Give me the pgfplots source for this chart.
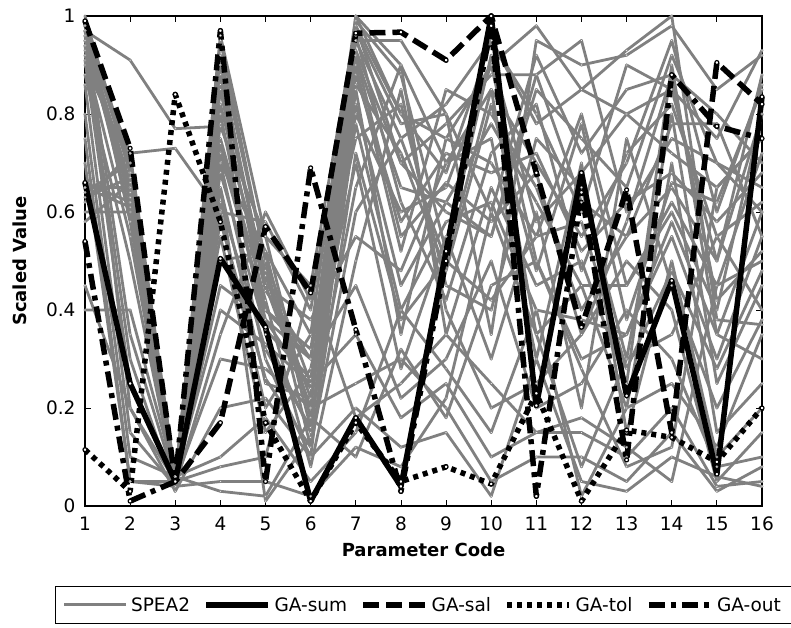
\documentclass[border=0pt]{standalone}
\usepackage{fontspec}
\setmainfont{DejaVu Sans}
\usepackage{pgfplots}
\usepackage{pgfplotstable}
\pgfplotsset{compat=1.18}
\definecolor{speagray}{RGB}{128,128,128}

% SPEA2 solutions, one row per solution, one column per parameter code
\pgfplotstableread{
name 1 2 3 4 5 6 7 8 9 10 11 12 13 14 15 16
s1  0.97 0.91 0.77 0.775 0.55 0.45 0.98 0.80 0.75 0.90 0.98 0.85 0.93 1.00 0.38 0.37
s2  0.95 0.72 0.73 0.60 0.58 0.40 0.95 0.75 0.82 0.95 0.80 0.60 0.90 0.85 0.75 0.93
s3  1.00 0.68 0.05 0.95 0.50 0.25 1.00 0.90 0.70 0.85 0.70 0.55 0.70 0.95 0.60 0.86
s4  0.93 0.65 0.04 0.90 0.45 0.20 0.97 0.78 0.80 0.60 0.92 0.72 0.85 0.88 0.80 0.70
s5  0.98 0.62 0.05 0.85 0.40 0.30 0.93 0.70 0.60 0.55 0.88 0.95 0.60 0.75 0.70 0.60
s6  0.90 0.70 0.06 0.80 0.35 0.15 0.90 0.52 0.85 0.80 0.65 0.40 0.55 0.65 0.50 0.88
s7  0.96 0.60 0.04 0.70 0.30 0.10 0.85 0.35 0.75 0.70 0.55 0.80 0.45 0.60 0.40 0.80
s8  0.99 0.58 0.05 0.65 0.25 0.22 0.80 0.60 0.65 0.90 0.50 0.30 0.35 0.55 0.30 0.55
s9  0.92 0.55 0.04 0.60 0.20 0.35 0.75 0.82 0.45 0.40 0.75 0.65 0.30 0.80 0.25 0.45
s10 0.88 0.50 0.05 0.55 0.15 0.28 0.70 0.28 0.55 0.30 0.60 0.20 0.75 0.45 0.20 0.38
s11 0.66 0.62 0.05 0.96 0.55 0.18 0.65 0.90 0.35 0.65 0.45 0.50 0.25 0.90 0.35 0.30
s12 0.65 0.65 0.06 0.92 0.50 0.12 0.60 0.75 0.50 0.85 0.35 0.45 0.20 0.70 0.15 0.25
s13 0.63 0.67 0.05 0.88 0.45 0.38 0.55 0.48 0.70 0.75 0.30 0.70 0.15 0.50 0.10 0.20
s14 0.60 0.60 0.04 0.75 0.42 0.08 0.50 0.85 0.40 0.20 0.25 0.35 0.50 0.40 0.05 0.15
s15 0.58 0.66 0.05 0.45 0.38 0.30 0.45 0.22 0.30 0.50 0.20 0.25 0.40 0.30 0.08 0.10
s16 0.40 0.40 0.06 0.40 0.33 0.25 0.35 0.18 0.25 0.10 0.15 0.15 0.10 0.20 0.04 0.05
s17 0.97 0.35 0.05 0.30 0.28 0.20 0.25 0.30 0.20 0.05 0.10 0.10 0.05 0.15 0.03 0.08
s18 0.94 0.30 0.03 0.20 0.22 0.10 0.20 0.12 0.15 0.02 0.30 0.05 0.03 0.10 0.06 0.04
s19 0.91 0.25 0.06 0.10 0.18 0.05 0.15 0.40 0.28 0.15 0.40 0.02 0.20 0.25 0.12 0.35
s20 0.99 0.20 0.05 0.08 0.10 0.45 0.18 0.25 0.35 0.25 0.15 0.18 0.12 0.05 0.45 0.50
s21 0.86 0.15 0.04 0.05 0.05 0.02 0.12 0.08 0.22 0.60 0.35 0.08 0.30 0.35 0.55 0.40
s22 0.80 0.10 0.06 0.03 0.02 0.18 0.10 0.32 0.18 0.45 0.50 0.28 0.08 0.12 0.65 0.75
s23 0.75 0.05 0.05 0.65 0.01 0.14 0.95 0.95 0.80 0.35 0.95 0.90 0.92 0.98 0.85 0.92
s24 0.70 0.05 0.04 0.35 0.60 0.42 0.92 0.65 0.62 0.55 0.85 0.75 0.65 0.92 0.70 0.65
s25 0.45 0.20 0.03 0.50 0.52 0.35 1.00 0.80 0.68 0.95 0.78 0.85 0.80 0.85 0.50 0.80
s26 0.99 0.70 0.05 0.78 0.48 0.22 0.98 0.70 0.78 0.88 0.88 0.62 0.55 0.78 0.78 0.55
s27 0.98 0.68 0.04 0.72 0.40 0.32 0.88 0.58 0.72 0.68 0.72 0.52 0.62 0.68 0.58 0.68
s28 0.95 0.64 0.05 0.68 0.36 0.26 0.82 0.45 0.62 0.78 0.62 0.45 0.45 0.62 0.45 0.72
s29 0.62 0.72 0.06 0.62 0.32 0.16 0.78 0.40 0.58 0.62 0.40 0.38 0.35 0.58 0.35 0.60
s30 0.64 0.70 0.05 0.58 0.26 0.12 0.72 0.38 0.50 0.42 0.55 0.58 0.28 0.48 0.28 0.48
s31 0.96 0.66 0.05 0.82 0.44 0.30 0.99 0.88 0.52 0.92 0.58 0.68 0.80 0.72 0.65 0.75
s32 0.94 0.63 0.04 0.74 0.38 0.24 0.96 0.62 0.42 0.72 0.82 0.48 0.72 0.82 0.55 0.62
s33 0.65 0.61 0.05 0.86 0.47 0.20 0.92 0.55 0.66 0.58 0.68 0.35 0.58 0.88 0.42 0.52
s34 0.97 0.64 0.06 0.70 0.52 0.16 0.86 0.72 0.48 0.82 0.48 0.78 0.38 0.66 0.62 0.85
}\spearows
\pgfplotstabletranspose[colnames from=name]\spea\spearows

\begin{document}
\begin{tikzpicture}
\useasboundingbox (0,0) rectangle (791pt,627pt);
\begin{axis}[
  at={(85pt,121pt)}, anchor=south west,
  width=677pt, height=490pt, scale only axis,
  xmin=1, xmax=16, ymin=0, ymax=1,
  xtick={1,...,16}, ytick={0,0.2,0.4,0.6,0.8,1},
  tick align=inside, major tick length=6pt,
  tick style={black, line width=0.8pt},
  axis line style={line width=1.2pt},
  /pgf/number format/assume math mode=true,
  tick label style={font=\fontsize{18.5}{20}\selectfont},
  xticklabel style={yshift=-7pt},
  yticklabel style={xshift=-6pt},
  xlabel={\textbf{Parameter Code}}, ylabel={\textbf{Scaled Value}},
  label style={font=\fontsize{18}{20}\selectfont},
  xlabel style={at={(axis description cs:0.5,-0.09)}, anchor=center},
  ylabel style={at={(axis description cs:-0.096,0.5)}, anchor=center},
  clip=false,
  legend columns=5,
  legend image code/.code={\draw[#1] (0pt,0pt) -- (62pt,0pt);},
  legend style={at={(0.5,-0.202)}, anchor=center, draw=black, line width=1pt,
    font=\fontsize{18.5}{20}\selectfont, inner sep=7pt,
    nodes={inner sep=3.5pt},
    /tikz/every even column/.append style={column sep=10pt}},
  spea/.style={speagray, line width=2.8pt, line join=round,
    mark=*, mark size=1.2pt, mark options={fill=white, draw=speagray, line width=0.5pt, solid}},
  ga/.style={black, line width=5.5pt, line join=round,
    mark=*, mark size=2pt, mark options={fill=white, draw=black, line width=1.2pt, solid}},
]
\addlegendimage{speagray, line width=3pt}
\addlegendimage{black, line width=5.5pt}
\addlegendimage{black, line width=5.5pt, dash pattern=on 16pt off 7pt}
\addlegendimage{black, line width=5.5pt, dash pattern=on 5pt off 5pt}
\addlegendimage{black, line width=5.5pt, dash pattern=on 16pt off 6pt on 5pt off 6pt}
\legend{SPEA2, GA-sum, GA-sal, GA-tol, GA-out}

% SPEA2 front
\pgfplotsinvokeforeach{1,...,34}{
  \addplot[spea, forget plot] table[x=colnames, y=s#1] {\spea};
}

% single-objective GA runs
\addplot[ga, forget plot] coordinates {(1,0.66) (2,0.25) (3,0.05) (4,0.505) (5,0.365) (6,0.01) (7,0.18) (8,0.04) (9,0.52) (10,1.0) (11,0.205) (12,0.68) (13,0.225) (14,0.46) (15,0.065) (16,0.835)};
\addplot[ga, dash pattern=on 16pt off 7pt, forget plot] coordinates {(1,0.99) (2,0.73) (3,0.05) (4,0.17) (5,0.57) (6,0.435) (7,0.965) (8,0.967) (9,0.91) (10,1.0) (11,0.68) (12,0.365) (13,0.645) (14,0.15) (15,0.905) (16,0.82)};
\addplot[ga, dash pattern=on 5pt off 5pt, forget plot] coordinates {(1,0.115) (2,0.03) (3,0.84) (4,0.58) (5,0.17) (6,0.01) (7,0.17) (8,0.05) (9,0.08) (10,0.045) (11,0.23) (12,0.01) (13,0.155) (14,0.14) (15,0.09) (16,0.2)};
\addplot[ga, dash pattern=on 16pt off 6pt on 5pt off 6pt, forget plot] coordinates {(1,0.54) (2,0.01) (3,0.05) (4,0.97) (5,0.05) (6,0.69) (7,0.36) (8,0.03) (9,0.5) (10,0.98) (11,0.02) (12,0.64) (13,0.094) (14,0.88) (15,0.775) (16,0.75)};
\end{axis}
\end{tikzpicture}
\end{document}
